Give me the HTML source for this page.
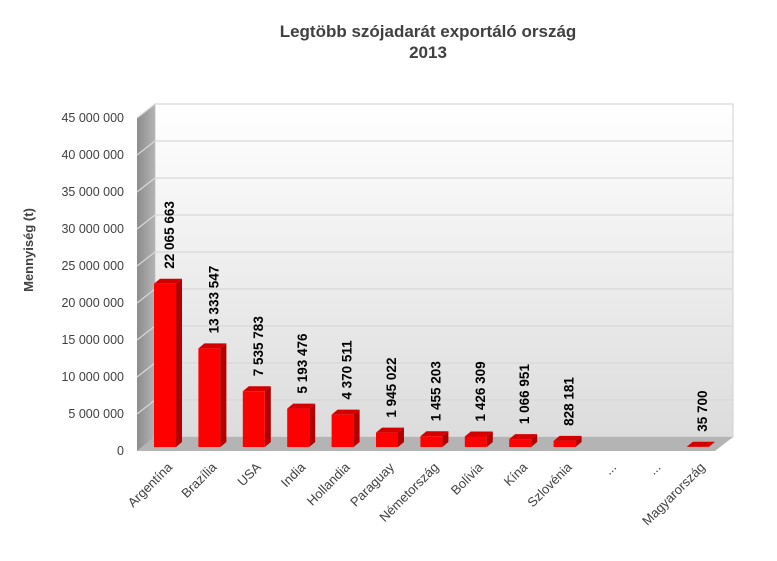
<!DOCTYPE html>
<html><head><meta charset="utf-8"><style>
body{margin:0;background:#fff;}
svg{display:block;font-family:"Liberation Sans",sans-serif;}
</style></head><body>
<svg id="chart" width="777" height="561" viewBox="0 0 777 561">
<defs>
<linearGradient id="wallg" x1="0" y1="0" x2="0" y2="1"><stop offset="0" stop-color="#ffffff"/><stop offset="1" stop-color="#dcdcdc"/></linearGradient>
<linearGradient id="sideg" x1="0" y1="0" x2="1" y2="0"><stop offset="0" stop-color="#8c8c8c"/><stop offset="1" stop-color="#b4b4b4"/></linearGradient>
</defs>
<text x="428" y="37" text-anchor="middle" font-size="17" font-weight="bold" fill="#404040">Legtöbb szójadarát exportáló ország</text>
<text x="428" y="58" text-anchor="middle" font-size="17" font-weight="bold" fill="#404040">2013</text>
<text transform="translate(33,250) rotate(-90)" text-anchor="middle" font-size="13" font-weight="bold" fill="#404040">Mennyiség (t)</text>
<g id="walls"></g>
<g id="grid"></g>
<g id="ticks"></g>
<g id="bars"></g>
<g id="xlabels"></g>
</svg>
<script>
const categories=["Argentína","Brazília","USA","India","Hollandia","Paraguay","Németország","Bolívia","Kína","Szlovénia","...","...","Magyarország"];
const values=[22065663,13333547,7535783,5193476,4370511,1945022,1455203,1426309,1066951,828181,null,null,35700];
const valueLabels=["22 065 663","13 333 547","7 535 783","5 193 476","4 370 511","1 945 022","1 455 203","1 426 309","1 066 951","828 181","","","35 700"];
const tickValues=[0,5000000,10000000,15000000,20000000,25000000,30000000,35000000,40000000,45000000];
const tickLabels=["0","5 000 000","10 000 000","15 000 000","20 000 000","25 000 000","30 000 000","35 000 000","40 000 000","45 000 000"];
const NS="http://www.w3.org/2000/svg";
const y0=451, pxPerUnit=37/5000000;
const y=v=>y0-v*pxPerUnit;
const x=i=>165+i*44.4;
const DX=18, DY=-14;
const L=137, R=715;
function mk(tag,attrs,parent){const e=document.createElementNS(NS,tag);for(const k in attrs)e.setAttribute(k,attrs[k]);parent.appendChild(e);return e;}
const walls=document.getElementById('walls');
let w=mk('rect',{x:L+DX,y:y(45000000)+DY,width:R-L,height:y(0)-y(45000000),fill:'url(#wallg)',stroke:'#d0d0d0'},walls);


let s=mk('polygon',{points:`${L},${y(45000000)} ${L+DX},${y(45000000)+DY} ${L+DX},${y(0)+DY} ${L},${y(0)}`,fill:'url(#sideg)'},walls);


let f=mk('polygon',{points:`${L},${y(0)} ${L+DX},${y(0)+DY} ${R+DX},${y(0)+DY} ${R},${y(0)}`,fill:'#b4b4b4'},walls);


const grid=document.getElementById('grid'), ticks=document.getElementById('ticks');
tickValues.forEach((v,i)=>{
 if(v>0){
  let g=mk('polyline',{points:`${L},${y(v)} ${L+DX},${y(v)+DY} ${R+DX},${y(v)+DY}`,fill:'none',stroke:'#d8d8d8','stroke-width':1.2},grid);
  
  
 }
 let t=mk('text',{x:124,y:y(v)+4,'text-anchor':'end','font-size':12.5,fill:'#404040'},ticks);
 t.textContent=tickLabels[i];
 
 
});
const bars=document.getElementById('bars'), xl=document.getElementById('xlabels');
const bw=22, bd=6, bdy=-5, base=447;
values.forEach((v,i)=>{
 const cx=x(i);
 if(v!==null){
  const top=base-v*pxPerUnit, l=cx-bw/2, r=cx+bw/2;
  const g=mk('g',{},bars);
  
  
  mk('polygon',{points:`${r},${top} ${r+bd},${top+bdy} ${r+bd},${base+bdy} ${r},${base}`,fill:'#b00000'},g);
  mk('polygon',{points:`${l},${top} ${l+bd},${top+bdy} ${r+bd},${top+bdy} ${r},${top}`,fill:'#d40000'},g);
  mk('rect',{x:l,y:top,width:bw,height:base-top,fill:'#ff0000'},g);
  const t=mk('text',{transform:`translate(${cx+9},${top-15}) rotate(-90)`,'font-size':13.5,'font-weight':'bold',fill:'#000'},bars);
  t.textContent=valueLabels[i];
  
  
 }
 const t=mk('text',{transform:`translate(${cx+8},${468}) rotate(-45)`,'text-anchor':'end','font-size':13,fill:'#404040'},xl);
 t.textContent=categories[i];
 
 
});
</script>
</body></html>
